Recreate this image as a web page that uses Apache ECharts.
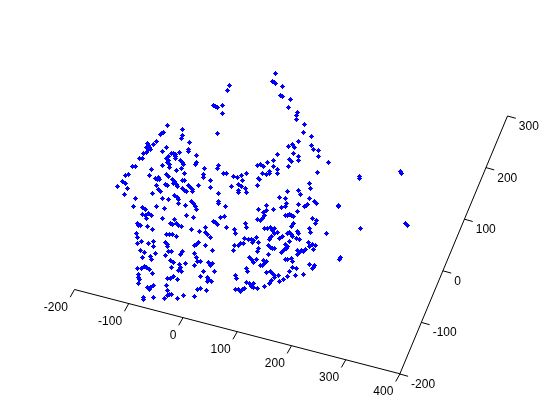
<!DOCTYPE html>
<html><head><meta charset="utf-8">
<style>html,body{margin:0;padding:0;background:#fff}#c{width:560px;height:420px}</style>
<script src="https://cdn.jsdelivr.net/npm/echarts@6/dist/echarts.min.js"></script>
</head><body><div id="c"></div>
<script>
// Axis ticks
var xTicks = [-200,-100,0,100,200,300,400];
var zTicks = [-200,-100,0,100,200,300];
// Points, as [horizontal, vertical] in the view plane
var upperLeft = [[229,85],[227,90],[213,105],[215,106],[217,107],[222,105],[222,113],[167,125],[182,129],[217,133],[163,132],[161,133],[160,134],[182,135],[181,138],[156,141],[189,142],[153,144],[147,143],[148,145],[146,147],[149,147],[150,149],[148,149],[146,152],[143,153],[166,147],[162,151],[188,149],[188,151],[179,152],[171,153],[173,153],[175,154],[175,156],[175,158],[168,156],[167,157],[166,158],[196,155],[139,158],[142,158],[168,160],[167,162],[169,164],[169,167],[180,160],[182,162],[183,164],[181,168],[196,162],[195,164],[162,165],[132,166],[135,166],[151,169],[176,170],[204,168],[218,165],[217,168],[184,173],[223,173],[226,173],[203,174],[203,177],[128,174],[125,175],[149,175],[166,174],[168,176],[155,178],[158,177],[157,179],[159,179],[172,179],[174,181],[173,183],[176,184],[177,186],[182,180],[184,180],[210,180],[122,181],[125,183],[117,186],[127,188],[156,185],[165,184],[167,185],[188,185],[190,187],[192,189],[198,185],[210,187],[182,188]];
var upperRight = [[275,73],[272,81],[274,82],[275,83],[282,86],[280,95],[282,96],[290,99],[288,107],[297,112],[296,115],[296,119],[304,124],[303,132],[311,136],[298,141],[292,144],[294,147],[288,146],[311,145],[313,149],[318,150],[318,156],[293,153],[277,154],[298,156],[298,160],[289,159],[291,161],[273,160],[267,162],[328,162],[288,166],[273,166],[277,169],[257,165],[260,164],[263,166],[269,171],[262,173],[266,174],[269,173],[277,173],[317,172],[233,176],[237,177],[241,175],[246,173],[242,180],[258,178],[259,179],[238,184],[241,186],[245,188],[231,186],[257,185],[309,183],[310,188]];
var lowerLeft = [[124,194],[158,189],[160,191],[152,193],[184,190],[186,191],[192,191],[218,193],[135,198],[162,198],[168,199],[174,195],[177,197],[178,199],[178,203],[218,201],[218,203],[191,201],[193,203],[195,206],[196,209],[185,205],[133,206],[156,206],[164,208],[225,206],[142,207],[145,209],[142,214],[145,215],[148,213],[151,215],[146,218],[186,215],[193,217],[162,218],[220,217],[224,216],[213,221],[215,222],[217,224],[170,223],[172,224],[174,219],[176,223],[178,225],[181,226],[137,223],[138,225],[140,225],[147,226],[152,229],[226,227],[205,227],[191,229],[234,229],[235,233],[199,231],[205,232],[207,234],[210,237],[166,234],[169,234],[172,234],[176,236],[136,233],[137,237],[137,243],[141,241],[148,243],[153,241],[153,246],[165,242],[167,244],[167,246],[198,242],[196,244],[194,245],[205,245],[234,245],[238,245],[233,250],[140,250],[144,252],[142,257],[212,250],[168,251],[171,251],[182,251],[180,254],[155,253],[150,256],[151,259],[165,255],[194,253],[196,257],[197,261],[200,261],[170,260],[173,262],[185,263],[179,264],[180,267],[178,270],[181,271],[194,265],[208,262],[210,265],[212,263],[171,267],[137,268],[141,268],[144,266],[146,267],[149,269],[152,273],[203,271],[214,271],[138,274],[138,277],[139,279],[138,283],[200,276],[167,278],[170,278],[173,276],[177,279],[207,277],[208,279],[207,281],[211,281],[235,275],[236,278],[166,285],[153,285],[150,287],[147,287],[149,289],[197,289],[200,288],[206,290],[235,289],[238,289],[167,290],[169,294],[167,295],[171,294],[143,297],[143,299],[153,297],[164,298],[177,298],[183,295],[194,296]];
var lowerRight = [[246,192],[238,190],[238,192],[287,191],[298,190],[300,194],[279,197],[285,198],[286,203],[281,207],[285,206],[309,198],[314,201],[316,203],[298,204],[304,206],[306,205],[307,204],[266,205],[258,209],[266,210],[263,212],[273,209],[297,211],[264,215],[262,218],[257,219],[260,220],[285,215],[287,215],[289,214],[291,215],[293,216],[312,218],[316,220],[315,223],[293,223],[291,226],[245,223],[246,227],[264,228],[267,228],[270,227],[272,230],[274,228],[277,232],[274,233],[270,237],[269,239],[271,236],[309,228],[310,232],[287,233],[289,232],[291,234],[292,236],[297,231],[298,233],[326,233],[279,238],[282,236],[296,238],[299,239],[244,238],[248,239],[251,239],[253,240],[256,237],[252,242],[240,243],[243,243],[258,242],[258,248],[257,251],[289,241],[285,244],[286,248],[283,250],[281,252],[287,246],[284,249],[268,245],[270,247],[272,248],[274,248],[308,242],[312,244],[315,245],[309,246],[313,249],[297,250],[305,249],[301,250],[303,251],[297,254],[299,252],[268,254],[249,257],[251,259],[256,259],[253,262],[263,260],[266,261],[264,263],[262,265],[260,265],[285,259],[287,259],[291,258],[292,261],[309,264],[314,265],[313,267],[312,268],[292,267],[296,268],[246,268],[247,271],[289,271],[266,272],[270,271],[272,273],[274,275],[273,274],[278,275],[303,274],[295,275],[287,276],[283,279],[279,281],[274,277],[271,280],[269,283],[246,282],[249,283],[253,283],[251,286],[253,287],[264,286],[257,288],[240,291],[242,289],[244,288]];
var outliers = [[359,176],[359,178],[400,171],[401,173],[338,205],[338,206],[360,228],[405,223],[407,225],[340,257],[339,259]];

var points = [].concat(upperLeft, upperRight, lowerLeft, lowerRight, outliers).map(function(p){return [p[0]+0.5,p[1]+0.5];});

function xPos(v){return [74.5+(v+200)*0.5425, 289.5+(v+200)*0.1405];}
function zPos(v){return [399.8+(v+200)*0.2154, 374-(v+200)*0.516];}

function lineSeries(data){
  return {type:'line',data:data,symbol:'none',silent:true,animation:false,z:2,
    lineStyle:{color:'#000',width:1,opacity:1},itemStyle:{color:'#000',opacity:1}};
}
var series = [];
series.push(lineSeries([xPos(-200),xPos(400)]));
series.push(lineSeries([zPos(-200),zPos(300)]));
xTicks.forEach(function(v){var p=xPos(v);series.push(lineSeries([p,[p[0]-4.3,p[1]+7.7]]));});
zTicks.forEach(function(v){var p=zPos(v);series.push(lineSeries([p,[p[0]+8.3,p[1]+2.3]]));});

var labelBase = {show:true,position:'inside',verticalAlign:'middle',color:'#000',opacity:1,
  fontFamily:'"Liberation Sans",Arial,sans-serif',fontSize:12,
  formatter:function(o){return o.value[2];}};
series.push({type:'scatter',symbolSize:0,silent:true,animation:false,itemStyle:{opacity:1},
  data:xTicks.map(function(v){var p=xPos(v);return [p[0]-6.7,p[1]+18,String(v)];}),
  label:Object.assign({align:'right'},labelBase)});
series.push({type:'scatter',symbolSize:0,silent:true,animation:false,itemStyle:{opacity:1},
  data:zTicks.map(function(v){var p=zPos(v);return [p[0]+11.3,p[1]+10.7,String(v)];}),
  label:Object.assign({align:'left'},labelBase)});
series.push({type:'scatter',data:points,symbol:'path://M2 0H3V1H4V2H5V3H4V4H3V5H2V4H1V3H0V2H1V1H2Z',symbolSize:5,
  itemStyle:{color:'#0000ff',opacity:1},silent:true,animation:false,z:3,large:false});

var chart = echarts.init(document.getElementById('c'),null,{renderer:'canvas'});
chart.setOption({
  animation:false,backgroundColor:'#fff',
  grid:{left:0,right:0,top:0,bottom:0,containLabel:false},
  xAxis:{type:'value',min:0,max:560,show:false},
  yAxis:{type:'value',min:0,max:420,inverse:true,show:false},
  tooltip:{show:false},legend:{show:false},
  series:series
});
</script></body></html>
